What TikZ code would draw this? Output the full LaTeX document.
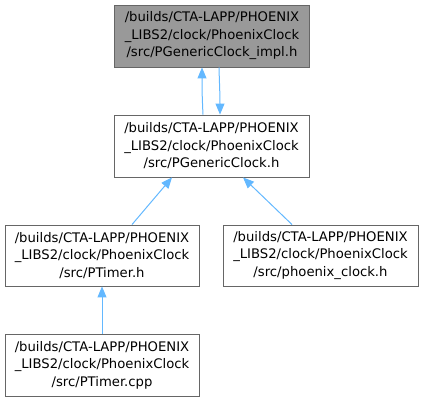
\documentclass[tikz,border=0pt]{standalone}
\usepackage{fontspec}
\setmainfont{DejaVu Sans}
\usetikzlibrary{arrows.meta,calc}
\tikzset{
  filebox/.style={draw=black!60, line width=0.9pt, fill=white, align=center,
    minimum width=195pt, minimum height=62pt, inner sep=0pt,
    font=\fontsize{13.2}{17.5}\selectfont},
  curbox/.style={filebox, fill=black!40},
  dep/.style={draw={rgb,255:red,99;green,184;blue,255}, line width=1pt,
    -{Triangle[width=9pt,length=11pt]}, shorten >=0pt},
}
\begin{document}
\begin{tikzpicture}[x=1pt,y=-1pt]
\useasboundingbox (0,0) rectangle (424,401);
\node[curbox] (n1) at (212,36) {/builds/CTA-LAPP/PHOENIX\\\_LIBS2/clock/PhoenixClock\\/src/PGenericClock\_impl.h};
\node[filebox] (n2) at (211.5,146) {/builds/CTA-LAPP/PHOENIX\\\_LIBS2/clock/PhoenixClock\\/src/PGenericClock.h};
\node[filebox, minimum width=194pt, minimum height=61pt] (n3) at (102,255.5) {/builds/CTA-LAPP/PHOENIX\\\_LIBS2/clock/PhoenixClock\\/src/PTimer.h};
\node[filebox, minimum height=61pt] (n4) at (320.5,255.5) {/builds/CTA-LAPP/PHOENIX\\\_LIBS2/clock/PhoenixClock\\/src/phoenix\_clock.h};
\node[filebox, minimum width=194pt] (n5) at (102,365) {/builds/CTA-LAPP/PHOENIX\\\_LIBS2/clock/PhoenixClock\\/src/PTimer.cpp};
\draw[dep] ($(n2.north)+(-8.5,0)$) .. controls ($(n2.north)+(-9.5,-20)$) and ($(n1.south)+(-10,18)$) .. ($(n1.south)+(-10,0)$);
\draw[dep] ($(n1.south)+(7,0)$) .. controls ($(n1.south)+(7.5,18)$) and ($(n2.north)+(8.5,-20)$) .. ($(n2.north)+(8.5,0)$);
\draw[dep] ($(n3.north)+(30,0)$) -- ($(n2.south)+(-39.5,0)$);
\draw[dep] ($(n4.north)+(-28.5,0)$) -- ($(n2.south)+(31.5,0)$);
\draw[dep] (n5.north) -- (n3.south);
\end{tikzpicture}
\end{document}
